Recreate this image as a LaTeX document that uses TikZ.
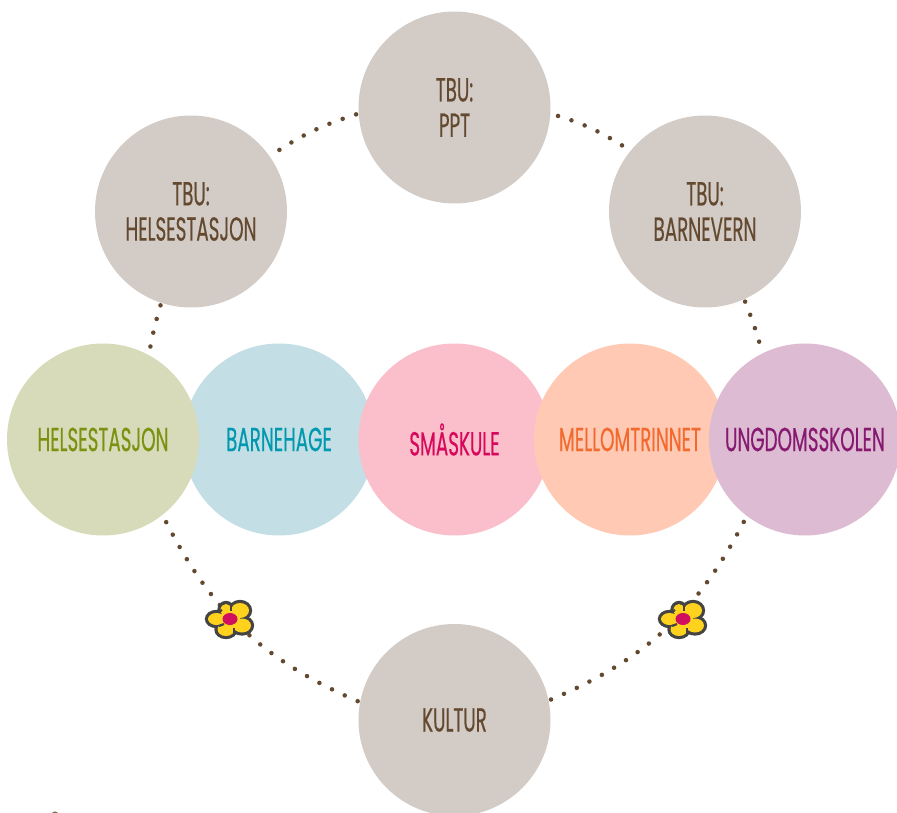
\documentclass[tikz,border=0pt]{standalone}
\usepackage{fontspec}
\setmainfont[FakeStretch=0.55,FakeBold=0.4]{Poppins}
\usepackage{tikz}
\definecolor{tbufill}{HTML}{D3CBC5}
\definecolor{tbutext}{HTML}{63492F}
\definecolor{helsefill}{HTML}{D7DBB9}
\definecolor{helsetext}{HTML}{7B9210}
\definecolor{hagefill}{HTML}{C3DEE4}
\definecolor{hagetext}{HTML}{0099AF}
\definecolor{skulefill}{HTML}{FBBFCB}
\definecolor{skuletext}{HTML}{D7085C}
\definecolor{mellomfill}{HTML}{FFC9B3}
\definecolor{mellomtext}{HTML}{F26A2E}
\definecolor{ungfill}{HTML}{DDBBD2}
\definecolor{ungtext}{HTML}{861A71}
\definecolor{petal}{HTML}{FFD21E}
\definecolor{petalline}{HTML}{444444}
\definecolor{petalmid}{HTML}{D0105F}
\tikzset{
  ring/.style={circle, minimum size=144pt, inner sep=0pt, outer sep=2pt, align=center,
    font=\fontsize{25}{26.5}\selectfont},
  tbu/.style={ring, fill=tbufill, text=tbutext},
  dotline/.style={line width=3.4pt, tbutext, line cap=round, dash pattern=on 0pt off 10.6pt},
  flower/.pic={
    \foreach \px/\py/\rx/\ry in {-4/-9/5.5/6, 10/-8.5/9/7.5, 12/6.5/9/7, -4/10.5/8.5/6.5, -13.5/0/8.5/6}
      \fill[petalline] (\px,\py) ellipse ({\rx+3.2} and {\ry+3.2});
    \foreach \px/\py/\rx/\ry in {-4/-9/5.5/6, 10/-8.5/9/7.5, 12/6.5/9/7, -4/10.5/8.5/6.5, -13.5/0/8.5/6}
      \fill[petal] (\px,\py) ellipse ({\rx} and {\ry});
    \fill[petal] (0,0) circle (10);
    \foreach \ax/\ay/\bx/\by in {1/-16/1/-8, -8/-9/-11/-7, -6/5/-11/7, 4/9/4/16}
      \draw[petalline, line width=1.6pt] (\ax,\ay) -- (\bx,\by);
    \fill[petalmid] (0,0) ellipse (7.5 and 6);
  }
}
\begin{document}
\begin{tikzpicture}[x=.75pt,y=-.75pt]
  \useasboundingbox (0,0) rectangle (897,813);
  \clip (0,0) rectangle (897,813);
  % the outer ring
  \node[tbu] (ppt) at (454.5,107.5) {TBU:\\PPT};
  \node[tbu] (tbuhelse) at (191,211.5) {TBU:\\HELSESTASJON};
  \node[tbu] (barnevern) at (705,211.5) {TBU:\\BARNEVERN};
  \node[tbu] (kultur) at (454.5,720) {KULTUR};
  % the row
  \node[ring, fill=hagefill, text=hagetext] (barnehage) at (279,439.5) {BARNEHAGE};
  \node[ring, fill=helsefill, text=helsetext] (helse) at (103,439.5) {HELSESTASJON};
  \node[ring, fill=skulefill, text=skuletext] (skule) at (454.5,439.5) {\raisebox{-3pt}{SMÅSKULE}};
  \node[ring, fill=mellomfill, text=mellomtext] (mellom) at (630,439.5) {MELLOMTRINNET};
  \node[ring, fill=ungfill, text=ungtext] (ungdom) at (805,439.5) {UNGDOMSSKOLEN};
  % dotted links
  \draw[dotline] (ppt.184) to[bend right=8] (tbuhelse.35);
  \draw[dotline, shorten <=4pt] (ppt.356) to[bend left=8] (barnevern.141);
  \draw[dotline] (tbuhelse.252) to[bend right=3] (helse.62);
  \draw[dotline] (barnevern.294) to[bend left=3] (ungdom.116);
  \draw[dotline] (kultur.169) to[bend left=20] (helse.308);
  \draw[dotline] (kultur.12) to[bend right=20] (ungdom.233);
  % flowers
  \pic at (230,619) {flower};
  \pic at (683,619) {flower};
  % scrap at the bottom edge
  \fill[tbutext!80!white] (55,815) circle (3.6);
\end{tikzpicture}
\end{document}
